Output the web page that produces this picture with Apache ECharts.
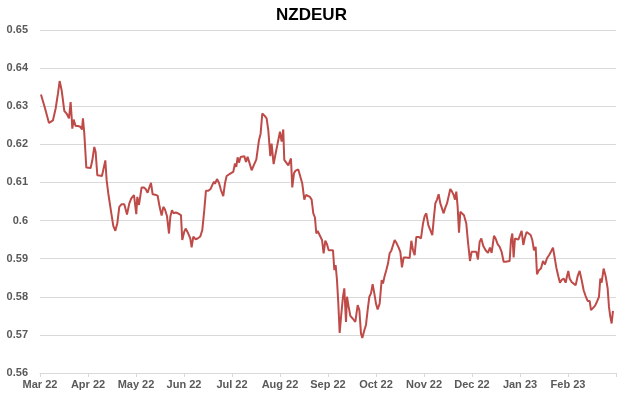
<!DOCTYPE html>
<html>
<head>
<meta charset="utf-8">
<title>NZDEUR</title>
<script src="https://cdn.jsdelivr.net/npm/echarts@6/dist/echarts.min.js"></script>
<style>
  html, body { margin: 0; padding: 0; background: #fff; }
  #chart { width: 623px; height: 399px; }
</style>
</head>
<body>
<div id="chart"></div>
<script>
// x: months since 1 Mar 2022, y: NZD/EUR rate
const monthLabels = ['Mar 22', 'Apr 22', 'May 22', 'Jun 22', 'Jul 22', 'Aug 22',
  'Sep 22', 'Oct 22', 'Nov 22', 'Dec 22', 'Jan 23', 'Feb 23'];
const yTicks = [0.56, 0.57, 0.58, 0.59, 0.6, 0.61, 0.62, 0.63, 0.64, 0.65];

const t = [
  0.020, 0.097, 0.187, 0.215, 0.270, 0.326, 0.374, 0.409, 0.451, 0.506,
  0.562, 0.604, 0.638, 0.659, 0.673, 0.701, 0.742, 0.791, 0.840, 0.874,
  0.895, 0.923, 0.965, 1.006, 1.055, 1.090, 1.131, 1.159, 1.194, 1.242,
  1.291, 1.326, 1.361, 1.388, 1.423, 1.486, 1.527, 1.569, 1.611, 1.652,
  1.701, 1.756, 1.812, 1.861, 1.902, 1.958, 1.986, 2.006, 2.027, 2.062,
  2.090, 2.117, 2.159, 2.201, 2.242, 2.270, 2.312, 2.347, 2.395, 2.451,
  2.492, 2.534, 2.569, 2.604, 2.645, 2.687, 2.715, 2.749, 2.784, 2.826,
  2.874, 2.937, 2.964, 3.006, 3.034, 3.089, 3.131, 3.159, 3.194, 3.242,
  3.284, 3.339, 3.381, 3.423, 3.457, 3.506, 3.555, 3.589, 3.624, 3.645,
  3.687, 3.728, 3.770, 3.818, 3.853, 3.888, 3.923, 3.971, 4.027, 4.062,
  4.089, 4.117, 4.145, 4.180, 4.221, 4.256, 4.291, 4.325, 4.367, 4.409,
  4.464, 4.506, 4.534, 4.562, 4.596, 4.631, 4.673, 4.721, 4.756, 4.798,
  4.825, 4.867, 4.909, 4.950, 4.999, 5.034, 5.068, 5.089, 5.131, 5.173,
  5.207, 5.228, 5.256, 5.291, 5.325, 5.381, 5.416, 5.464, 5.506, 5.541,
  5.575, 5.624, 5.659, 5.694, 5.728, 5.756, 5.784, 5.825, 5.875, 5.909,
  5.944, 5.979, 6.014, 6.062, 6.104, 6.132, 6.159, 6.187, 6.215, 6.243,
  6.278, 6.312, 6.340, 6.375, 6.396, 6.430, 6.465, 6.514, 6.569, 6.618,
  6.653, 6.687, 6.715, 6.757, 6.791, 6.826, 6.861, 6.896, 6.930, 6.965,
  7.000, 7.034, 7.076, 7.118, 7.146, 7.173, 7.215, 7.250, 7.284, 7.319,
  7.354, 7.389, 7.423, 7.472, 7.507, 7.541, 7.576, 7.625, 7.666, 7.701,
  7.736, 7.771, 7.805, 7.840, 7.889, 7.937, 7.979, 8.014, 8.048, 8.090,
  8.132, 8.173, 8.201, 8.236, 8.271, 8.305, 8.340, 8.375, 8.409, 8.444,
  8.479, 8.514, 8.548, 8.583, 8.618, 8.646, 8.673, 8.701, 8.729, 8.757,
  8.798, 8.833, 8.881, 8.916, 8.958, 8.992, 9.041, 9.090, 9.124, 9.159,
  9.194, 9.235, 9.284, 9.333, 9.374, 9.409, 9.458, 9.492, 9.534, 9.576,
  9.617, 9.659, 9.701, 9.742, 9.784, 9.812, 9.840, 9.867, 9.895, 9.930,
  9.965, 10.006, 10.034, 10.069, 10.097, 10.138, 10.173, 10.222, 10.256, 10.291,
  10.326, 10.354, 10.395, 10.437, 10.479, 10.520, 10.562, 10.604, 10.645, 10.687,
  10.722, 10.756, 10.798, 10.833, 10.867, 10.909, 10.951, 10.979, 11.006, 11.034,
  11.076, 11.117, 11.159, 11.201, 11.242, 11.284, 11.326, 11.367, 11.409, 11.451,
  11.479, 11.520, 11.562, 11.603, 11.645, 11.673, 11.701, 11.742, 11.784, 11.826,
  11.853, 11.881, 11.909, 11.937
];

const rate = [
  0.6331, 0.6298, 0.6256, 0.6252, 0.6263, 0.6294, 0.6333, 0.6366, 0.6342, 0.6288,
  0.6279, 0.6268, 0.6311, 0.6272, 0.6241, 0.6265, 0.6248, 0.6248, 0.6246, 0.6239,
  0.6268, 0.6228, 0.6139, 0.6138, 0.6138, 0.6158, 0.6193, 0.6180, 0.6119, 0.6118,
  0.6117, 0.6117, 0.6158, 0.6106, 0.6071, 0.6019, 0.5986, 0.5973, 0.5993, 0.6036,
  0.6043, 0.6043, 0.6016, 0.6045, 0.6058, 0.6067, 0.6071, 0.6017, 0.6062, 0.6041,
  0.6038, 0.6087, 0.6087, 0.6083, 0.6073, 0.6084, 0.6099, 0.6069, 0.6068, 0.6065,
  0.6036, 0.6013, 0.6036, 0.6029, 0.6012, 0.5966, 0.6010, 0.6027, 0.6019, 0.6021,
  0.6019, 0.6014, 0.5949, 0.5971, 0.5979, 0.5966, 0.5953, 0.5930, 0.5958, 0.5951,
  0.5953, 0.5958, 0.5975, 0.6028, 0.6078, 0.6078, 0.6083, 0.6093, 0.6102, 0.6096,
  0.6109, 0.6099, 0.6080, 0.6064, 0.6097, 0.6117, 0.6115, 0.6124, 0.6128, 0.6150,
  0.6141, 0.6166, 0.6152, 0.6167, 0.6163, 0.6169, 0.6154, 0.6167, 0.6150, 0.6132,
  0.6148, 0.6160, 0.6156, 0.6211, 0.6228, 0.6281, 0.6276, 0.6268, 0.6237, 0.6169,
  0.6202, 0.6148, 0.6176, 0.6202, 0.6233, 0.6207, 0.6239, 0.6159, 0.6152, 0.6145,
  0.6141, 0.6163, 0.6087, 0.6124, 0.6131, 0.6134, 0.6135, 0.6097, 0.6055, 0.6067,
  0.6065, 0.6062, 0.6055, 0.6019, 0.6008, 0.5966, 0.5973, 0.5962, 0.5949, 0.5914,
  0.5947, 0.5938, 0.5922, 0.5922, 0.5922, 0.5870, 0.5883, 0.5844, 0.5782, 0.5705,
  0.5756, 0.5800, 0.5822, 0.5734, 0.5800, 0.5774, 0.5750, 0.5743, 0.5734, 0.5778,
  0.5765, 0.5704, 0.5692, 0.5712, 0.5726, 0.5765, 0.5800, 0.5809, 0.5833, 0.5809,
  0.5782, 0.5767, 0.5782, 0.5844, 0.5835, 0.5851, 0.5870, 0.5887, 0.5914, 0.5921,
  0.5921, 0.5949, 0.5942, 0.5929, 0.5918, 0.5877, 0.5903, 0.5903, 0.5903, 0.5902,
  0.5947, 0.5922, 0.5909, 0.5957, 0.5957, 0.5953, 0.5992, 0.6012, 0.6019, 0.5988,
  0.5975, 0.5962, 0.6001, 0.6045, 0.6055, 0.6069, 0.6045, 0.6032, 0.6019, 0.6034,
  0.6045, 0.6045, 0.6083, 0.6076, 0.6067, 0.6055, 0.6076, 0.6036, 0.5968, 0.6023,
  0.6023, 0.6014, 0.5992, 0.5944, 0.5894, 0.5918, 0.5918, 0.5918, 0.5898, 0.5944,
  0.5953, 0.5933, 0.5922, 0.5915, 0.5929, 0.5915, 0.5960, 0.5953, 0.5938, 0.5931,
  0.5918, 0.5892, 0.5892, 0.5892, 0.5894, 0.5949, 0.5966, 0.5903, 0.5953, 0.5953,
  0.5950, 0.5950, 0.5973, 0.5936, 0.5953, 0.5970, 0.5967, 0.5962, 0.5949, 0.5922,
  0.5931, 0.5859, 0.5870, 0.5874, 0.5894, 0.5885, 0.5901, 0.5909, 0.5918, 0.5929,
  0.5903, 0.5877, 0.5854, 0.5837, 0.5844, 0.5848, 0.5837, 0.5854, 0.5868, 0.5848,
  0.5839, 0.5835, 0.5830, 0.5854, 0.5868, 0.5844, 0.5817, 0.5802, 0.5789, 0.5789,
  0.5765, 0.5767, 0.5776, 0.5787, 0.5800, 0.5848, 0.5837, 0.5874, 0.5854, 0.5822,
  0.5774, 0.5748, 0.5730, 0.5763
];

const chart = echarts.init(document.getElementById('chart'), null, { renderer: 'canvas' });

chart.setOption({
  animation: false,
  backgroundColor: '#ffffff',
  title: {
    text: 'NZDEUR',
    left: 'center',
    top: 2,
    textStyle: {
      fontFamily: 'Liberation Sans, Arial, sans-serif',
      fontSize: 17,
      fontWeight: 'bold',
      color: '#000000'
    }
  },
  grid: { left: 40, right: 7, top: 30, bottom: 26 },
  xAxis: {
    type: 'value',
    min: 0,
    max: monthLabels.length,
    interval: 1,
    axisLine: { show: true, lineStyle: { color: '#d9d9d9', width: 1 } },
    axisTick: { show: true, length: 4, lineStyle: { color: '#d9d9d9' } },
    splitLine: { show: false },
    axisLabel: {
      color: '#595959',
      fontFamily: 'Liberation Sans, Arial, sans-serif',
      fontSize: 11,
      fontWeight: 'bold',
      margin: 6,
      formatter: v => monthLabels[v] || ''
    }
  },
  yAxis: {
    type: 'value',
    min: yTicks[0],
    max: yTicks[yTicks.length - 1],
    interval: 0.01,
    axisLine: { show: false },
    axisTick: { show: false },
    splitLine: { show: true, lineStyle: { color: '#d9d9d9', width: 1 } },
    axisLabel: {
      color: '#595959',
      fontFamily: 'Liberation Sans, Arial, sans-serif',
      fontSize: 11,
      fontWeight: 'bold',
      margin: 12,
      formatter: v => String(parseFloat(v.toFixed(2)))
    }
  },
  series: [{
    name: 'NZDEUR',
    type: 'line',
    data: t.map((x, i) => [x, rate[i]]),
    showSymbol: false,
    symbol: 'none',
    lineStyle: { color: '#be4b48', width: 2 },
    itemStyle: { color: '#be4b48' }
  }]
});
</script>
</body>
</html>
